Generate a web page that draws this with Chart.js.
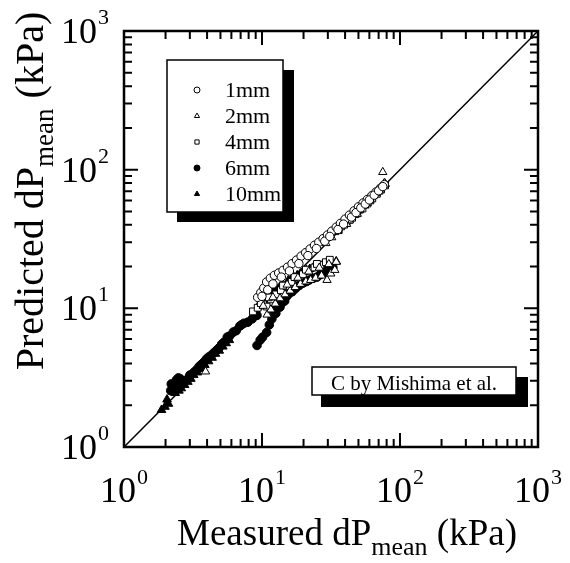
<!DOCTYPE html>
<html>
<head>
<meta charset="utf-8">
<script src="https://cdn.jsdelivr.net/npm/chart.js@4"></script>
<style>
  html, body { margin: 0; padding: 0; background: #fff; }
</style>
</head>
<body>
<canvas id="chart" width="570" height="563"></canvas>
<script>
// axis decades and their exponent labels
const decades = [1, 10, 100, 1000];
const exponents = ['0', '1', '2', '3'];
const seriesNames = ['1mm', '2mm', '4mm', '6mm', '10mm'];
const refLine = [1, 1000];

// 1mm (open circles)
const mm1X = [9.3, 9.8, 10.3, 10.8, 11.5, 12.3, 13.2, 14.2, 15.3, 16.5, 17.8, 19.2, 20.7, 22.3, 24.0, 25.8, 27.7, 29.8, 32.0, 34.5, 37.0, 40.0, 43.0, 46.5, 50.0, 54.0, 58.0, 62.5, 67.0, 72.0, 77.0,
              10.0, 11.0, 12.0, 13.8, 15.8, 18.5, 21.5, 24.8, 28.5, 31.0, 35.5, 39.0, 44.5, 48.0, 52.0, 56.0, 60.0, 65.0, 70.0, 75.0];
const mm1Y = [12.0, 13.0, 14.0, 15.5, 16.5, 17.3, 18.0, 18.8, 19.8, 21.0, 22.3, 23.8, 25.2, 26.8, 28.5, 30.0, 31.8, 33.8, 36.0, 38.5, 41.0, 44.0, 47.0, 50.5, 54.0, 57.5, 61.0, 65.0, 69.0, 73.5, 78.0,
              12.2, 13.6, 15.0, 16.8, 18.6, 21.0, 24.0, 27.0, 30.5, 33.0, 37.0, 40.5, 45.5, 49.0, 53.0, 56.5, 60.5, 65.5, 70.5, 75.5];

// 2mm (open triangles)
const mm2X = [3.9, 10.9, 11.6, 12.5, 13.5, 14.7, 16.0, 17.4, 19.0, 20.8, 22.5, 24.5, 27.0, 29.6, 31.5, 33.7, 29.0, 32.0, 35.5, 39.0, 43.0, 47.0, 51.0, 55.5, 60.0, 64.5, 69.0, 73.0, 77.0, 75.0,
              10.2, 12.0, 15.2, 18.2, 21.8, 26.0, 30.5, 34.5, 41.0, 49.0, 58.0, 67.0];
const mm2Y = [3.5, 9.0, 9.8, 10.8, 11.8, 12.6, 13.4, 14.2, 15.0, 15.6, 16.0, 16.6, 17.2, 16.0, 17.8, 18.9, 29.5, 32.5, 36.0, 39.5, 43.0, 47.0, 51.0, 55.0, 60.0, 65.0, 70.0, 75.0, 80.0, 96.0,
              10.4, 12.0, 14.8, 16.6, 18.4, 19.6, 20.8, 21.6, 40.5, 48.0, 57.5, 67.5];

// 4mm (open squares)
const mm4X = [8.6, 9.3, 10.2, 10.8, 11.6, 12.6, 13.7, 15.0, 16.4, 18.0, 19.8, 21.8, 24.0, 26.5, 29.0, 34.0, 37.5, 41.0, 45.0, 49.0, 53.5, 58.0, 63.0, 68.0, 73.0, 78.0,
              9.8, 11.2, 14.2, 17.2, 20.8, 25.0, 31.0, 36.0, 43.0, 51.0, 61.0, 71.0];
const mm4Y = [9.5, 10.1, 10.7, 10.3, 11.6, 12.6, 13.5, 14.5, 15.5, 16.6, 17.6, 18.7, 19.7, 20.6, 21.5, 36.0, 39.0, 41.5, 45.0, 48.5, 52.5, 57.0, 62.0, 67.0, 72.0, 77.0,
              10.9, 12.0, 14.6, 16.8, 19.0, 20.9, 22.4, 37.0, 43.5, 51.5, 60.0, 70.5];

// 6mm (filled circles)
const mm6X = [2.18, 2.25, 2.32, 2.4, 2.48, 2.56, 2.65, 2.35, 2.6, 2.9, 3.2, 3.5, 3.8, 4.1, 4.5, 4.9, 5.3, 5.6, 6.2, 6.9, 7.4, 7.9, 8.5, 9.2, 10.2, 11.5, 9.2, 9.7, 10.1, 10.8, 11.3, 11.8, 12.6, 13.5, 14.6, 15.9, 17.5, 19.8, 22.0, 25.0, 28.5, 32.6,
              2.2, 2.45, 3.0, 3.35, 3.65, 3.95, 4.3, 4.7, 5.1, 5.8, 6.5, 7.1, 12.1, 13.0, 14.0, 15.2, 16.6, 18.6, 21.0, 23.5, 26.5, 30.5];
const mm6Y = [2.55, 2.7, 2.9, 3.05, 3.15, 3.1, 3.0, 2.6, 2.8, 3.1, 3.45, 3.8, 4.1, 4.45, 4.8, 5.2, 5.7, 6.2, 6.75, 7.45, 7.8, 7.95, 8.4, 8.9, 12.5, 13.8, 5.4, 5.9, 6.2, 6.7, 7.6, 8.4, 9.2, 10.2, 11.3, 12.9, 13.9, 15.2, 16.0, 16.8, 18.2, 19.8,
              2.85, 2.95, 3.3, 3.6, 3.95, 4.3, 4.6, 5.0, 5.5, 6.3, 6.9, 7.6, 9.6, 10.4, 11.0, 12.3, 13.2, 14.6, 15.6, 16.5, 17.5, 19.2];

// 10mm (filled triangles)
const mm10X = [1.87, 1.98, 2.1, 2.2, 2.3, 2.4, 2.5, 2.6, 2.75, 2.9, 3.05, 3.2, 3.4, 3.6, 3.85, 4.1, 4.35, 4.6, 4.9, 5.2, 5.5, 5.8, 9.5, 10.5, 11.5, 12.8, 14.0, 15.5, 17.0, 19.0, 21.0, 23.5, 26.0, 29.0, 32.0, 34.5, 60, 66, 72, 78,
               2.05, 2.35, 2.8, 3.3, 3.75, 4.2, 4.8, 10.0, 11.0, 12.2, 13.4, 16.2, 18.0, 20.0, 22.2, 24.8, 27.5, 30.5];
const mm10Y = [1.85, 1.95, 2.05, 2.6, 2.75, 2.9, 2.55, 2.65, 2.8, 2.95, 3.1, 3.3, 3.45, 3.65, 3.9, 4.15, 4.4, 4.7, 4.95, 5.3, 5.6, 5.9, 10.6, 11.6, 12.6, 13.8, 14.8, 15.9, 16.8, 17.8, 18.8, 19.6, 20.3, 21.0, 21.4, 21.8, 62, 68, 74, 79,
               2.2, 2.45, 3.0, 3.5, 4.0, 4.5, 5.2, 11.0, 11.9, 13.0, 14.2, 16.2, 17.3, 18.3, 19.2, 20.0, 20.6, 21.2];

function pts(xs, ys) {
    return xs.map((x, i) => ({ x: x, y: ys[i] }));
}

const serif = '"Liberation Serif", "Times New Roman", serif';

const styles = [
    { pointStyle: 'circle', radius: 4.2, fill: '#fff' },
    { pointStyle: 'triangle', radius: 4.8, fill: '#fff' },
    { pointStyle: 'rect', radius: 4.8, fill: '#fff' },
    { pointStyle: 'circle', radius: 4.3, fill: '#000' },
    { pointStyle: 'triangle', radius: 5, fill: '#000' }
];
const allX = [mm1X, mm2X, mm4X, mm6X, mm10X];
const allY = [mm1Y, mm2Y, mm4Y, mm6Y, mm10Y];

// filled series are drawn first, open markers on top of them
const datasets = seriesNames.map((name, i) => ({
    type: 'scatter',
    label: name,
    data: pts(allX[i], allY[i]),
    pointStyle: styles[i].pointStyle,
    pointRadius: styles[i].radius,
    backgroundColor: styles[i].fill,
    borderColor: '#000',
    borderWidth: 1,
    order: i + 1
}));
datasets.push({
    type: 'line',
    label: 'y = x',
    data: pts(refLine, refLine),
    borderColor: '#000',
    borderWidth: 1.5,
    pointRadius: 0,
    fill: false,
    order: 10
});

function drawMarker(ctx, style, x, y, r, fill) {
    ctx.beginPath();
    if (style === 'circle') {
        ctx.arc(x, y, r, 0, Math.PI * 2);
    } else if (style === 'triangle') {
        ctx.moveTo(x, y - r);
        ctx.lineTo(x + r * 0.866, y + r * 0.5);
        ctx.lineTo(x - r * 0.866, y + r * 0.5);
        ctx.closePath();
    } else {
        ctx.rect(x - r * 0.707, y - r * 0.707, r * 1.414, r * 1.414);
    }
    ctx.fillStyle = fill;
    ctx.fill();
    ctx.lineWidth = 1;
    ctx.strokeStyle = '#000';
    ctx.stroke();
}

const decorations = {
    id: 'decorations',
    afterDraw(chart) {
        const ctx = chart.ctx;
        const a = chart.chartArea;
        const xs = chart.scales.x, ys = chart.scales.y;
        ctx.save();

        // frame
        ctx.strokeStyle = '#000';
        ctx.lineWidth = 2.5;
        ctx.strokeRect(a.left, a.top, a.right - a.left, a.bottom - a.top);

        // inward ticks on all four sides
        ctx.lineWidth = 2;
        for (let d = 0; d < 3; d++) {
            for (let k = 1; k <= 9; k++) {
                const v = k * decades[d];
                const len = k === 1 ? 14 : 8;
                const px = xs.getPixelForValue(v);
                const py = ys.getPixelForValue(v);
                ctx.beginPath();
                ctx.moveTo(px, a.bottom); ctx.lineTo(px, a.bottom - len);
                ctx.moveTo(px, a.top); ctx.lineTo(px, a.top + len);
                ctx.moveTo(a.left, py); ctx.lineTo(a.left + len, py);
                ctx.moveTo(a.right, py); ctx.lineTo(a.right - len, py);
                ctx.stroke();
            }
        }

        // tick labels 10^n
        ctx.fillStyle = '#000';
        ctx.textBaseline = 'alphabetic';
        decades.forEach((v, i) => {
            ctx.font = '36px ' + serif;
            const w10 = ctx.measureText('10').width;
            ctx.font = '22px ' + serif;
            const we = ctx.measureText(exponents[i]).width;
            const total = w10 + 1 + we;
            // x axis
            const px = xs.getPixelForValue(v);
            let x0 = px - total / 2;
            ctx.textAlign = 'left';
            ctx.font = '36px ' + serif;
            ctx.fillText('10', x0, 502);
            ctx.font = '22px ' + serif;
            ctx.fillText(exponents[i], x0 + w10 + 1, 484);
            // y axis
            const py = ys.getPixelForValue(v);
            x0 = 109 - total;
            ctx.font = '36px ' + serif;
            ctx.fillText('10', x0, py + 12);
            ctx.font = '22px ' + serif;
            ctx.fillText(exponents[i], x0 + w10 + 1, py - 7);
        });

        // axis titles with subscript
        function titleParts(main, big, small) {
            return [
                { t: main, f: big + 'px ' + serif, dy: 0 },
                { t: 'mean', f: small + 'px ' + serif, dy: 10 },
                { t: ' (kPa)', f: big + 'px ' + serif, dy: 0 }
            ];
        }
        function drawTitle(parts, cx, baseY) {
            let w = 0;
            parts.forEach(p => { ctx.font = p.f; p.w = ctx.measureText(p.t).width; w += p.w; });
            let x = cx - w / 2;
            ctx.textAlign = 'left';
            parts.forEach(p => { ctx.font = p.f; ctx.fillText(p.t, x, baseY + p.dy); x += p.w; });
        }
        drawTitle(titleParts('Measured dP', 37, 26), 347, 545);
        ctx.save();
        ctx.translate(43, 191);
        ctx.rotate(-Math.PI / 2);
        drawTitle(titleParts('Predicted dP', 40, 27), 0, 0);
        ctx.restore();

        // legend box with shadow
        ctx.fillStyle = '#000';
        ctx.fillRect(177, 70, 117, 152);
        ctx.fillStyle = '#fff';
        ctx.fillRect(167, 60, 116, 152);
        ctx.lineWidth = 1.5;
        ctx.strokeStyle = '#000';
        ctx.strokeRect(167, 60, 116, 152);
        ctx.font = '22px ' + serif;
        ctx.textAlign = 'left';
        seriesNames.forEach((name, i) => {
            const base = 97 + i * 26;
            drawMarker(ctx, styles[i].pointStyle, 197, base - 7, 3, styles[i].fill);
            ctx.fillStyle = '#000';
            ctx.fillText(name, 225, base);
        });

        // note box with shadow
        ctx.fillStyle = '#000';
        ctx.fillRect(321, 377, 207, 30);
        ctx.fillStyle = '#fff';
        ctx.fillRect(312, 367, 204, 28);
        ctx.lineWidth = 1.5;
        ctx.strokeRect(312, 367, 204, 28);
        ctx.fillStyle = '#000';
        ctx.font = '21px ' + serif;
        ctx.textAlign = 'center';
        ctx.fillText('C by Mishima et al.', 414, 390);

        ctx.restore();
    }
};

new Chart(document.getElementById('chart').getContext('2d'), {
    data: { datasets: datasets },
    options: {
        responsive: false,
        animation: false,
        layout: { padding: { left: 124, right: 32, top: 31, bottom: 116 } },
        plugins: { legend: { display: false }, tooltip: { enabled: false } },
        scales: {
            x: { type: 'logarithmic', min: 1, max: 1000, display: false },
            y: { type: 'logarithmic', min: 1, max: 1000, display: false }
        }
    },
    plugins: [decorations]
});
</script>
</body>
</html>
